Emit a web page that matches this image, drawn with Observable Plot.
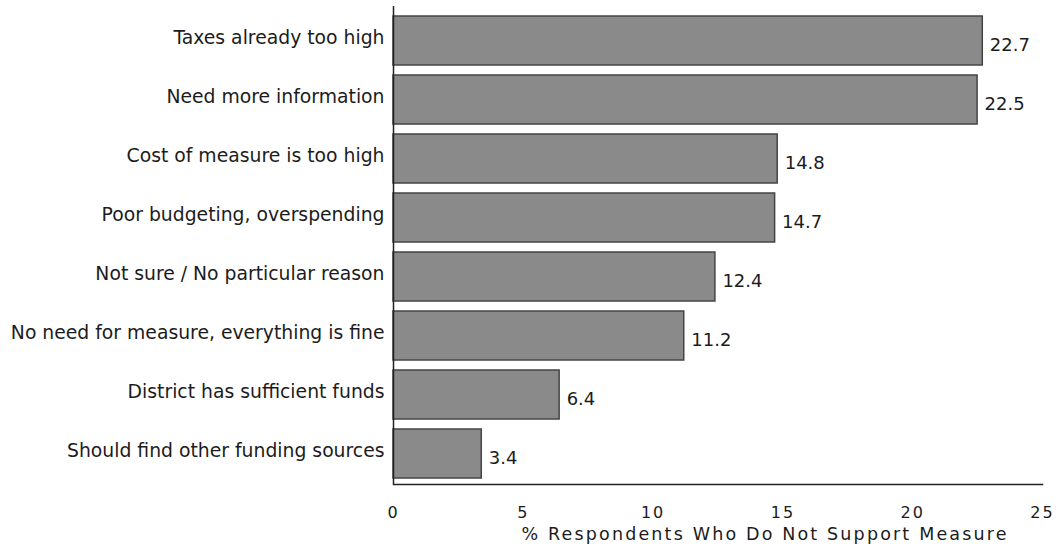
<!DOCTYPE html>
<html>
<head>
<meta charset="utf-8">
<script src="https://cdn.jsdelivr.net/npm/d3@7"></script>
<script src="https://cdn.jsdelivr.net/npm/@observablehq/plot@0.6"></script>
<style>
  html, body { margin: 0; padding: 0; background: #fff; }
  #chart svg { display: block; }
</style>
</head>
<body>
<div id="chart"></div>
<script>
// Reasons respondents gave for not supporting the measure
const reasons = [
  "Taxes already too high",
  "Need more information",
  "Cost of measure is too high",
  "Poor budgeting, overspending",
  "Not sure / No particular reason",
  "No need for measure, everything is fine",
  "District has sufficient funds",
  "Should find other funding sources"
];
const percents = [22.7, 22.5, 14.8, 14.7, 12.4, 11.2, 6.4, 3.4];
const xTicks = [0, 5, 10, 15, 20, 25];
const xTitle = "% Respondents Who Do Not Support Measure";

const data = reasons.map((reason, i) => ({reason, value: percents[i]}));

const font = "'DejaVu Sans', sans-serif";
const ink = "#1c1c1c";

const chart = Plot.plot({
  width: 1060,
  height: 552,
  marginLeft: 393,
  marginRight: 18,
  marginTop: 9,
  marginBottom: 68,
  style: {fontFamily: font, color: ink, background: "#fff"},
  x: {domain: [0, 25], ticks: xTicks, label: null},
  y: {domain: reasons, label: null, paddingInner: 0.175, paddingOuter: 0.05},
  marks: [
    Plot.barX(data, {
      x: "value", y: "reason",
      fill: "#8a8a8a", stroke: "#444", strokeWidth: 1.5
    }),
    Plot.text(data, {
      x: "value", y: "reason", text: d => d.value.toFixed(1),
      textAnchor: "start", dx: 7, dy: 4, fontSize: 18, fill: ink
    }),
    // value axis line along the left edge of the bars
    Plot.ruleX([0], {stroke: "#222", strokeWidth: 1.5, insetTop: -3}),
    // baseline under the bars
    Plot.frame({anchor: "bottom", stroke: "#222", strokeWidth: 1.5}),
    Plot.axisY({tickSize: 0, tickPadding: 9, fontSize: 18.8, dy: -3}),
    Plot.axisX({ticks: xTicks, tickSize: 0, tickPadding: 22, fontSize: 16, label: null}),
    Plot.text([xTitle], {
      frameAnchor: "bottom", dx: 46, dy: 55, fontSize: 17.5, fill: ink
    })
  ]
});

// widen the tracking of the lower axis texts
const tickLabels = new Set(xTicks.map(String));
d3.select(chart).selectAll("text").each(function() {
  const t = d3.select(this);
  const s = this.textContent;
  if (s === xTitle) {
    t.attr("textLength", 485).attr("lengthAdjust", "spacing");
  } else if (tickLabels.has(s)) {
    t.attr("letter-spacing", "2px").style("letter-spacing", "2px");
  }
});

document.getElementById("chart").appendChild(chart);
</script>
</body>
</html>
